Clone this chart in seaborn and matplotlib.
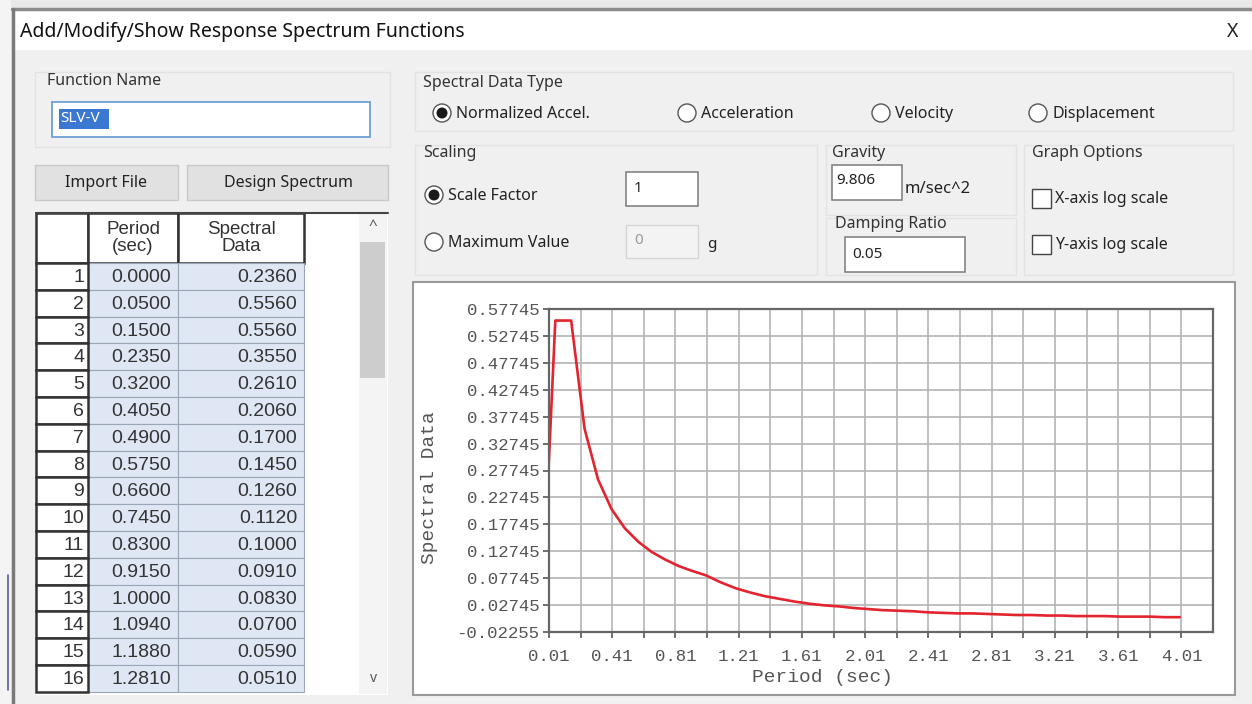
import numpy as np
import pandas as pd
import seaborn as sns
import matplotlib.pyplot as plt
from matplotlib.patches import Rectangle, Circle

# spectrum data (period in sec, normalized spectral accel.)
period = [0.0, 0.05, 0.15, 0.235, 0.32, 0.405, 0.49, 0.575, 0.66, 0.745,
          0.83, 0.915, 1.0, 1.094, 1.188, 1.281, 1.375, 1.469, 1.563, 1.656,
          1.75, 1.844, 1.938, 2.031, 2.125, 2.219, 2.313, 2.406, 2.5, 2.594,
          2.688, 2.781, 2.875, 2.969, 3.063, 3.156, 3.25, 3.344, 3.438, 3.531,
          3.625, 3.719, 3.813, 3.906, 4.0]
spectral = [0.236, 0.556, 0.556, 0.355, 0.261, 0.206, 0.170, 0.145, 0.126, 0.112,
            0.100, 0.091, 0.083, 0.070, 0.059, 0.051, 0.044, 0.039, 0.034, 0.030,
            0.027, 0.025, 0.022, 0.020, 0.018, 0.017, 0.016, 0.014, 0.013, 0.012,
            0.012, 0.011, 0.010, 0.009, 0.009, 0.008, 0.008, 0.007, 0.007, 0.007,
            0.006, 0.006, 0.006, 0.005, 0.005]
n_rows_shown = 16

x_ticks = [0.01, 0.41, 0.81, 1.21, 1.61, 2.01, 2.41, 2.81, 3.21, 3.61, 4.01]
x_grid = [0.01, 0.21, 0.41, 0.61, 0.81, 1.01, 1.21, 1.41, 1.61, 1.81, 2.01,
          2.21, 2.41, 2.61, 2.81, 3.01, 3.21, 3.41, 3.61, 3.81, 4.01]
y_ticks = [-0.02255, 0.02745, 0.07745, 0.12745, 0.17745, 0.22745, 0.27745,
           0.32745, 0.37745, 0.42745, 0.47745, 0.52745, 0.57745]

df = pd.DataFrame({"Period": period, "Spectral": spectral})

sns.set_style("white")
plt.rcParams["font.family"] = ["Noto Sans", "DejaVu Sans"]
plt.rcParams["axes.unicode_minus"] = False

W, H = 1252, 704
fig = plt.figure(figsize=(W / 100, H / 100), dpi=100)
fig.patch.set_facecolor("#f0f0f0")

# background axes in pixel coords for the dialog
bg = fig.add_axes([0, 0, 1, 1])
bg.set_xlim(0, W)
bg.set_ylim(H, 0)
bg.axis("off")

UI = 11.5  # size of the dialog labels


def rect(x0, y0, x1, y1, fc="none", ec="none", lw=1.0, z=1):
    bg.add_patch(Rectangle((x0, y0), x1 - x0, y1 - y0, facecolor=fc,
                           edgecolor=ec, linewidth=lw, zorder=z))


def label(x, y, s, size=UI, color="#222222", ha="left", **kw):
    bg.text(x, y, s, fontsize=size, color=color, ha=ha, va="center", zorder=5, **kw)


def radio(x, y, on=False):
    bg.add_patch(Circle((x, y), 9, facecolor="white", edgecolor="#555555",
                        linewidth=1.0, zorder=4))
    if on:
        bg.add_patch(Circle((x, y), 5.5, facecolor="#1a1a1a", edgecolor="none", zorder=5))


def checkbox(x, y):
    rect(x, y - 9, x + 19, y + 10, fc="white", ec="#444444", lw=1.0, z=4)


# outer window frame
rect(0, 0, W, 9, fc="#e9e9e9")
rect(0, 0, 11, H, fc="#f4f4f4")
bg.plot([12, W], [9, 9], color="#8c8c8c", lw=2.5, zorder=3)
bg.plot([12.5, 12.5], [9, H], color="#7a7a7a", lw=2.5, zorder=3)
bg.plot([8, 8], [575, 690], color="#5a5aa0", lw=1.2, zorder=3)
rect(13, 10, W, 50, fc="white")
label(20, 32, "Add/Modify/Show Response Spectrum Functions", size=14, color="#111111")
label(1233, 32, "X", size=14, color="#222222", ha="center")

# function name group
rect(35, 72, 390, 147, ec="#e3e3e3", lw=1)
label(47, 81, "Function Name", color="#333333")
rect(52, 102, 370, 137, fc="white", ec="#6f9fd8", lw=1.3)
rect(59, 109, 109, 129, fc="#3a78d2", z=3)
label(60, 119, "SLV-V", size=11, color="white")

# buttons
rect(35, 165, 178, 200, fc="#e1e1e1", ec="#c8c8c8")
label(106, 183, "Import File", color="#222222", ha="center")
rect(187, 165, 388, 200, fc="#e1e1e1", ec="#c8c8c8")
label(288, 183, "Design Spectrum", color="#222222", ha="center")

# data grid
row_h = 26.8
top_rows = 263
rect(36, 213, 388, 695, fc="white", ec="none", z=1)
bg.plot([36, 388], [213, 213], color="#444444", lw=1.5, zorder=3)
rect(36, 213, 88, 263, fc="white", ec="#333333", lw=1.8, z=2)
rect(88, 213, 178, 263, fc="white", ec="#333333", lw=1.8, z=2)
rect(178, 213, 304, 263, fc="white", ec="#333333", lw=1.8, z=2)
tfont = dict(family=["Liberation Sans", "DejaVu Sans"])
bg.text(133, 238, "Period\n(sec)", fontsize=13.5, color="#333333", ha="center",
        va="center", linespacing=1.0, zorder=5, **tfont)
bg.text(241, 238, "Spectral\nData", fontsize=13.5, color="#333333", ha="center",
        va="center", linespacing=1.0, zorder=5, **tfont)
for i in range(n_rows_shown):
    y0 = top_rows + i * row_h
    rect(88, y0, 178, y0 + row_h, fc="#dfe7f5", ec="#9aa6b8", lw=0.8, z=2)
    rect(178, y0, 304, y0 + row_h, fc="#dfe7f5", ec="#9aa6b8", lw=0.8, z=2)
    rect(36, y0, 88, y0 + row_h, fc="white", ec="#333333", lw=1.8, z=3)
    yc = y0 + row_h / 2 + 1
    label(84, yc, str(i + 1), size=14, color="#333333", ha="right", **tfont)
    label(171, yc, f"{period[i]:.4f}", size=14, color="#333333", ha="right", **tfont)
    label(297, yc, f"{spectral[i]:.4f}", size=14, color="#333333", ha="right", **tfont)

# scrollbar
rect(359, 214, 387, 694, fc="#f4f4f4", z=2)
rect(360, 242, 385, 378, fc="#cdcdcd", z=3)
label(373, 226, "^", size=11, color="#555555", ha="center")
label(373, 678, "v", size=10, color="#555555", ha="center")

# spectral data type group
rect(415, 72, 1233, 131, ec="#e3e3e3", lw=1)
label(423, 83, "Spectral Data Type", color="#333333")
radio(442, 113, on=True)
label(456, 114, "Normalized Accel.")
radio(687, 113)
label(701, 114, "Acceleration")
radio(881, 113)
label(895, 114, "Velocity")
radio(1038, 113)
label(1052, 114, "Displacement")

# scaling group
rect(415, 145, 817, 275, ec="#e3e3e3", lw=1)
label(423, 153, "Scaling", color="#333333")
radio(434, 195, on=True)
label(448, 196, "Scale Factor")
rect(626, 172, 698, 206, fc="white", ec="#7a7a7a", lw=1.1)
label(634, 188, "1", size=11)
radio(434, 242)
label(448, 243, "Maximum Value")
rect(626, 225, 698, 258, fc="#f3f3f3", ec="#d6d6d6", lw=1.0)
label(634, 240, "0", size=11, color="#9a9a9a")
label(707, 245, "g", size=11)

# gravity / damping
rect(826, 145, 1016, 215, ec="#e3e3e3", lw=1)
label(832, 153, "Gravity", color="#333333")
rect(832, 165, 902, 200, fc="white", ec="#7a7a7a", lw=1.1)
label(836, 181, "9.806", size=11)
label(905, 189, "m/sec^2", size=12)
rect(826, 218, 1016, 275, ec="#e3e3e3", lw=1)
label(835, 224, "Damping Ratio", color="#333333")
rect(845, 237, 965, 272, fc="white", ec="#7a7a7a", lw=1.1)
label(852, 255, "0.05", size=11)

# graph options
rect(1024, 145, 1233, 275, ec="#e3e3e3", lw=1)
label(1032, 153, "Graph Options", color="#333333")
checkbox(1032, 198)
label(1055, 199, "X-axis log scale")
checkbox(1032, 244)
label(1055, 245, "Y-axis log scale")

# chart frame
rect(413, 282, 1235, 695, fc="white", ec="#9a9a9a", lw=1.5)

# the chart itself
px0, px1, py0, py1 = 549, 1213, 309, 632
ax = fig.add_axes([px0 / W, 1 - py1 / H, (px1 - px0) / W, (py1 - py0) / H])
ax.set_facecolor("white")
sns.lineplot(data=df, x="Period", y="Spectral", ax=ax, color="#e3232d",
             linewidth=1.9, estimator=None, sort=False)
ax.set_xlim(0.01, 4.21)
ax.set_ylim(y_ticks[0], y_ticks[-1])
ax.set_xticks(x_grid)
ax.set_xticklabels([f"{v:.2f}" if v in x_ticks else "" for v in x_grid])
ax.set_yticks(y_ticks)
ax.set_yticklabels([f"{v:.5f}" for v in y_ticks])
ax.grid(True, color="#b4b4b4", linewidth=1.2)
ax.set_axisbelow(True)
for side in ax.spines.values():
    side.set_color("#666666")
    side.set_linewidth(1.6)
mono = ["Liberation Mono", "DejaVu Sans Mono"]
ax.tick_params(axis="both", direction="out", length=4, width=1.2, color="#555555",
               labelsize=12.5, labelcolor="#555555", pad=3,
               bottom=True, left=True)
for t in ax.get_xticklabels() + ax.get_yticklabels():
    t.set_family(mono)
ax.tick_params(axis="x", pad=8)
ax.set_xlabel("")
ax.set_ylabel("")
bg.text(822, 678, "Period (sec)", fontsize=14, color="#555555", ha="center",
        va="center", family=mono, zorder=5)
bg.text(429, 488, "Spectral Data", fontsize=14, color="#555555", ha="center",
        va="center", rotation=90, family=mono, zorder=5)

fig.savefig("out.png", dpi=100, facecolor=fig.get_facecolor())
